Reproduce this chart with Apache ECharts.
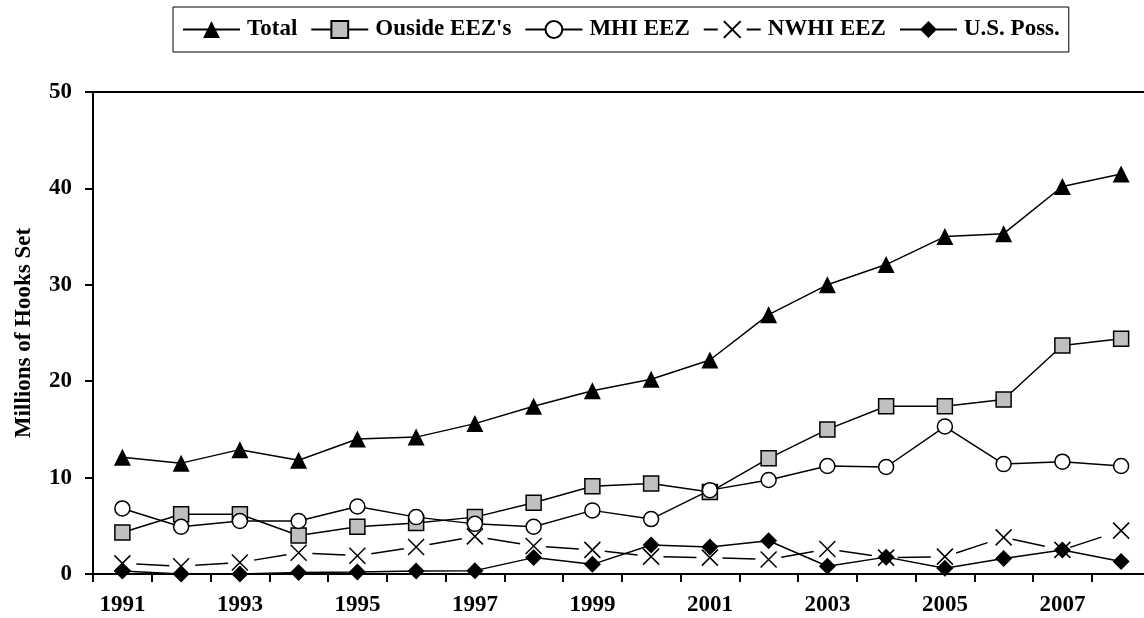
<!DOCTYPE html>
<html>
<head>
<meta charset="utf-8">
<script src="https://cdn.jsdelivr.net/npm/echarts@6/dist/echarts.min.js"></script>
<style>
  html, body { margin: 0; padding: 0; background: #fff; }
  #chart { width: 1144px; height: 618px; }
</style>
</head>
<body>
<div id="chart"></div>
<script>
const years = ['1991','1992','1993','1994','1995','1996','1997','1998','1999','2000','2001','2002','2003','2004','2005','2006','2007','2008'];
const total = [12.1, 11.5, 12.9, 11.8, 14.0, 14.2, 15.6, 17.4, 19.0, 20.2, 22.2, 26.9, 30.0, 32.1, 35.0, 35.3, 40.2, 41.5];
const outsideEEZ = [4.3, 6.2, 6.2, 4.0, 4.9, 5.3, 5.9, 7.4, 9.1, 9.4, 8.5, 12.0, 15.0, 17.4, 17.4, 18.1, 23.7, 24.4];
const mhiEEZ = [6.8, 4.9, 5.5, 5.5, 7.0, 5.9, 5.2, 4.9, 6.6, 5.7, 8.7, 9.75, 11.2, 11.1, 15.3, 11.4, 11.65, 11.2];
const nwhiEEZ = [1.1, 0.8, 1.2, 2.2, 1.9, 2.8, 3.9, 2.9, 2.5, 1.8, 1.7, 1.5, 2.6, 1.7, 1.8, 3.8, 2.5, 4.5];
const usPoss = [0.3, 0.0, 0.0, 0.15, 0.2, 0.3, 0.35, 1.7, 1.0, 3.0, 2.8, 3.45, 0.8, 1.75, 0.6, 1.6, 2.5, 1.3];
const yTicks = { min: 0, max: 50, interval: 10 };
const seriesNames = ['Total', "Ouside EEZ's", 'MHI EEZ', 'NWHI EEZ', 'U.S. Poss.'];
const yTitle = 'Millions of Hooks Set';

const FONT = 'Liberation Serif';
const FS = 23;
const XPATH = 'path://M0,0L10,10M10,0L0,10';

const chart = echarts.init(document.getElementById('chart'), null, { renderer: 'canvas' });

function lineSeries(name, data, symbol, size, fill, extra) {
  return Object.assign({
    name: name,
    type: 'line',
    data: data,
    symbol: symbol,
    symbolSize: size,
    showAllSymbol: true,
    animation: false,
    lineStyle: { color: '#000', width: 1.5 },
    itemStyle: { color: fill, borderColor: '#000', borderWidth: 1.5 },
    emphasis: { disabled: true }
  }, extra || {});
}

const option = {
  animation: false,
  backgroundColor: '#fff',
  textStyle: { fontFamily: FONT, fontWeight: 'bold', color: '#000' },
  legend: {
    left: 173,
    top: 7,
    orient: 'horizontal',
    padding: [11, 9, 11, 9],
    borderColor: '#000',
    borderWidth: 1,
    itemWidth: 57,
    itemHeight: 21,
    itemGap: 13,
    selectedMode: false,
    textStyle: { fontFamily: FONT, fontWeight: 'bold', fontSize: FS, color: '#000', padding: [0, 0, 0, 2] },
    data: [
      { name: seriesNames[0] },
      { name: seriesNames[1] },
      { name: seriesNames[2] },
      { name: seriesNames[3], lineStyle: { type: [14, 29], dashOffset: 0 } },
      { name: seriesNames[4] }
    ]
  },
  grid: {
    left: 93,
    top: 92,
    width: 1057.5,
    bottom: 44,
    outerBoundsMode: 'none',
    containLabel: false,
    show: true,
    borderColor: '#000',
    borderWidth: 2,
    backgroundColor: 'transparent'
  },
  xAxis: {
    type: 'category',
    data: years,
    boundaryGap: true,
    axisLine: { show: true, lineStyle: { color: '#000', width: 2 } },
    axisTick: { show: true, interval: 0, inside: false, length: 8, lineStyle: { color: '#000', width: 2 } },
    axisLabel: { interval: 1, margin: 20, fontFamily: FONT, fontWeight: 'bold', fontSize: FS, color: '#000' },
    splitLine: { show: false }
  },
  yAxis: {
    type: 'value',
    min: yTicks.min,
    max: yTicks.max,
    interval: yTicks.interval,
    name: yTitle,
    nameLocation: 'middle',
    nameRotate: 90,
    nameGap: 57,
    nameTextStyle: { fontFamily: FONT, fontWeight: 'bold', fontSize: FS, color: '#000' },
    axisLine: { show: true, lineStyle: { color: '#000', width: 2 } },
    axisTick: { show: true, inside: false, length: 8, lineStyle: { color: '#000', width: 2 } },
    axisLabel: { margin: 21, fontFamily: FONT, fontWeight: 'bold', fontSize: FS, color: '#000' },
    splitLine: { show: false }
  },
  series: [
    lineSeries(seriesNames[0], total, 'triangle', 17, '#000', { itemStyle: { color: '#000', borderWidth: 0 } }),
    lineSeries(seriesNames[1], outsideEEZ, 'rect', 15, '#c0c0c0'),
    lineSeries(seriesNames[2], mhiEEZ, 'circle', 15, '#fff'),
    lineSeries(seriesNames[3], nwhiEEZ, XPATH, 16, '#000', {
      lineStyle: { color: '#000', width: 1.5, type: [33, 26], dashOffset: 45 },
      itemStyle: { color: '#000', borderColor: '#000', borderWidth: 1.5 }
    }),
    lineSeries(seriesNames[4], usPoss, 'diamond', 17, '#000', { itemStyle: { color: '#000', borderWidth: 0 } })
  ]
};

chart.setOption(option);
</script>
</body>
</html>
